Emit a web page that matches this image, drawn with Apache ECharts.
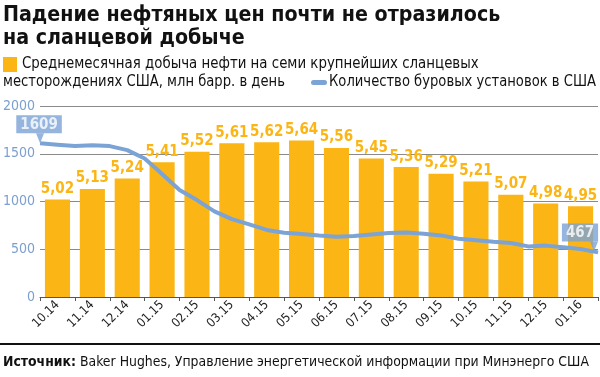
<!DOCTYPE html>
<html>
<head>
<meta charset="utf-8">
<script src="https://cdn.jsdelivr.net/npm/echarts@6/dist/echarts.min.js"></script>
<style>
  html, body { margin: 0; padding: 0; background: #fff; }
  #chart { width: 600px; height: 377px; }
</style>
</head>
<body>
<div id="chart"></div>
<script>
// месяцы
var months = ['10.14','11.14','12.14','01.15','02.15','03.15','04.15','05.15',
              '06.15','07.15','08.15','09.15','10.15','11.15','12.15','01.16'];
// добыча, млн барр. в день
var output = [5.02,5.13,5.24,5.41,5.52,5.61,5.62,5.64,5.56,5.45,5.36,5.29,5.21,5.07,4.98,4.95];
// буровые установки, по полмесяца
var rigs = [1609,1595,1580,1590,1580,1538,1450,1287,1120,1015,897,815,760,702,672,660,
            645,632,638,655,670,675,662,645,610,595,578,565,530,538,520,502,467];
var yTicks = [0, 2000, 500];

var FONT = '"Liberation Sans Narrow", "DejaVu Sans Condensed", sans-serif';
var YELLOW = '#fbb515';
var BLUE = '#7ba3d6';

var rigPoints = rigs.map(function (v, i) { return [i, v]; });
var last = rigs.length - 1;

var chart = echarts.init(document.getElementById('chart'));
chart.setOption({
    animation: false,
    textStyle: { fontFamily: FONT },
    grid: { left: 38, right: 2, top: 106, bottom: 80 },
    xAxis: [
        {
            type: 'category',
            data: months,
            axisLine: { lineStyle: { color: '#555', width: 1 } },
            axisTick: { show: true, length: 4, lineStyle: { color: '#555' } },
            axisLabel: { rotate: 45, color: '#222', fontSize: 12.5, margin: 6, fontFamily: FONT },
            splitLine: { show: false }
        },
        { type: 'value', min: 0, max: last, show: false }
    ],
    yAxis: [
        {
            type: 'value', min: yTicks[0], max: yTicks[1], interval: yTicks[2],
            axisLine: { show: false }, axisTick: { show: false },
            axisLabel: { color: '#7b9fd0', fontSize: 14, margin: 5, fontFamily: FONT,
                         formatter: function (v) { return String(v); } },
            splitLine: { lineStyle: { color: '#8a8a8a', width: 1 } }
        },
        { type: 'value', min: 4, max: 6, show: false }
    ],
    series: [
        {
            type: 'bar',
            data: output,
            xAxisIndex: 0, yAxisIndex: 1,
            barCategoryGap: '28%',
            itemStyle: { color: YELLOW },
            label: {
                show: true, position: 'top', distance: 3,
                color: YELLOW, fontSize: 15, fontWeight: 'bold', fontFamily: FONT,
                formatter: function (p) { return p.value.toFixed(2).replace('.', ','); }
            },
            z: 2
        },
        {
            type: 'line',
            data: rigPoints,
            xAxisIndex: 1, yAxisIndex: 0,
            symbol: 'none',
            lineStyle: { color: BLUE, width: 4 },
            z: 3
        },
        {
            // выноски с первым и последним значением
            type: 'scatter',
            xAxisIndex: 1, yAxisIndex: 0,
            symbol: 'triangle', symbolRotate: 180,
            itemStyle: { color: BLUE },
            label: {
                show: true, position: 'top', distance: 0,
                backgroundColor: BLUE, color: '#fff', fontSize: 15, fontWeight: 'bold',
                fontFamily: FONT, padding: [2, 4, 1, 4],
                formatter: function (p) { return String(p.value[1]); }
            },
            data: [
                { value: [0, rigs[0]], symbolSize: [8, 10], symbolOffset: [0, -5],
                  label: { offset: [-1, 0] } },
                { value: [last, rigs[last]], symbolSize: [8, 10], symbolOffset: [-4, -6],
                  label: { offset: [-14, 0] } }
            ],
            z: 4
        }
    ],
    graphic: [
        {
            type: 'text', x: 3, y: 4, scaleX: 0.965,
            style: {
                text: 'Падение нефтяных цен почти не отразилось\nна сланцевой добыче',
                font: 'bold 22px ' + FONT, fill: '#111', lineHeight: 23
            }
        },
        { type: 'rect', shape: { x: 3, y: 57, width: 14, height: 15 }, style: { fill: YELLOW } },
        {
            type: 'text', x: 22, y: 57, scaleX: 0.99,
            style: { text: 'Среднемесячная добыча нефти на семи крупнейших сланцевых',
                     font: '15px ' + FONT, fill: '#111' }
        },
        {
            type: 'text', x: 3, y: 75, scaleX: 0.975,
            style: { text: 'месторождениях США, млн барр. в день',
                     font: '15px ' + FONT, fill: '#111' }
        },
        { type: 'rect', shape: { x: 311, y: 80, width: 16, height: 5, r: 2.5 }, style: { fill: BLUE } },
        {
            type: 'text', x: 329, y: 75, scaleX: 0.975,
            style: { text: 'Количество буровых установок в США',
                     font: '15px ' + FONT, fill: '#111' }
        },
        { type: 'rect', shape: { x: 0, y: 343, width: 600, height: 2 }, style: { fill: '#111' } },
        {
            type: 'text', x: 3, y: 355, scaleX: 0.99,
            style: {
                text: '{b|Источник:} Baker Hughes, Управление энергетической информации при Минэнерго США',
                font: '14px ' + FONT, fill: '#111',
                rich: { b: { fontWeight: 'bold', fontSize: 14, fontFamily: FONT } }
            }
        }
    ]
});
</script>
</body>
</html>
